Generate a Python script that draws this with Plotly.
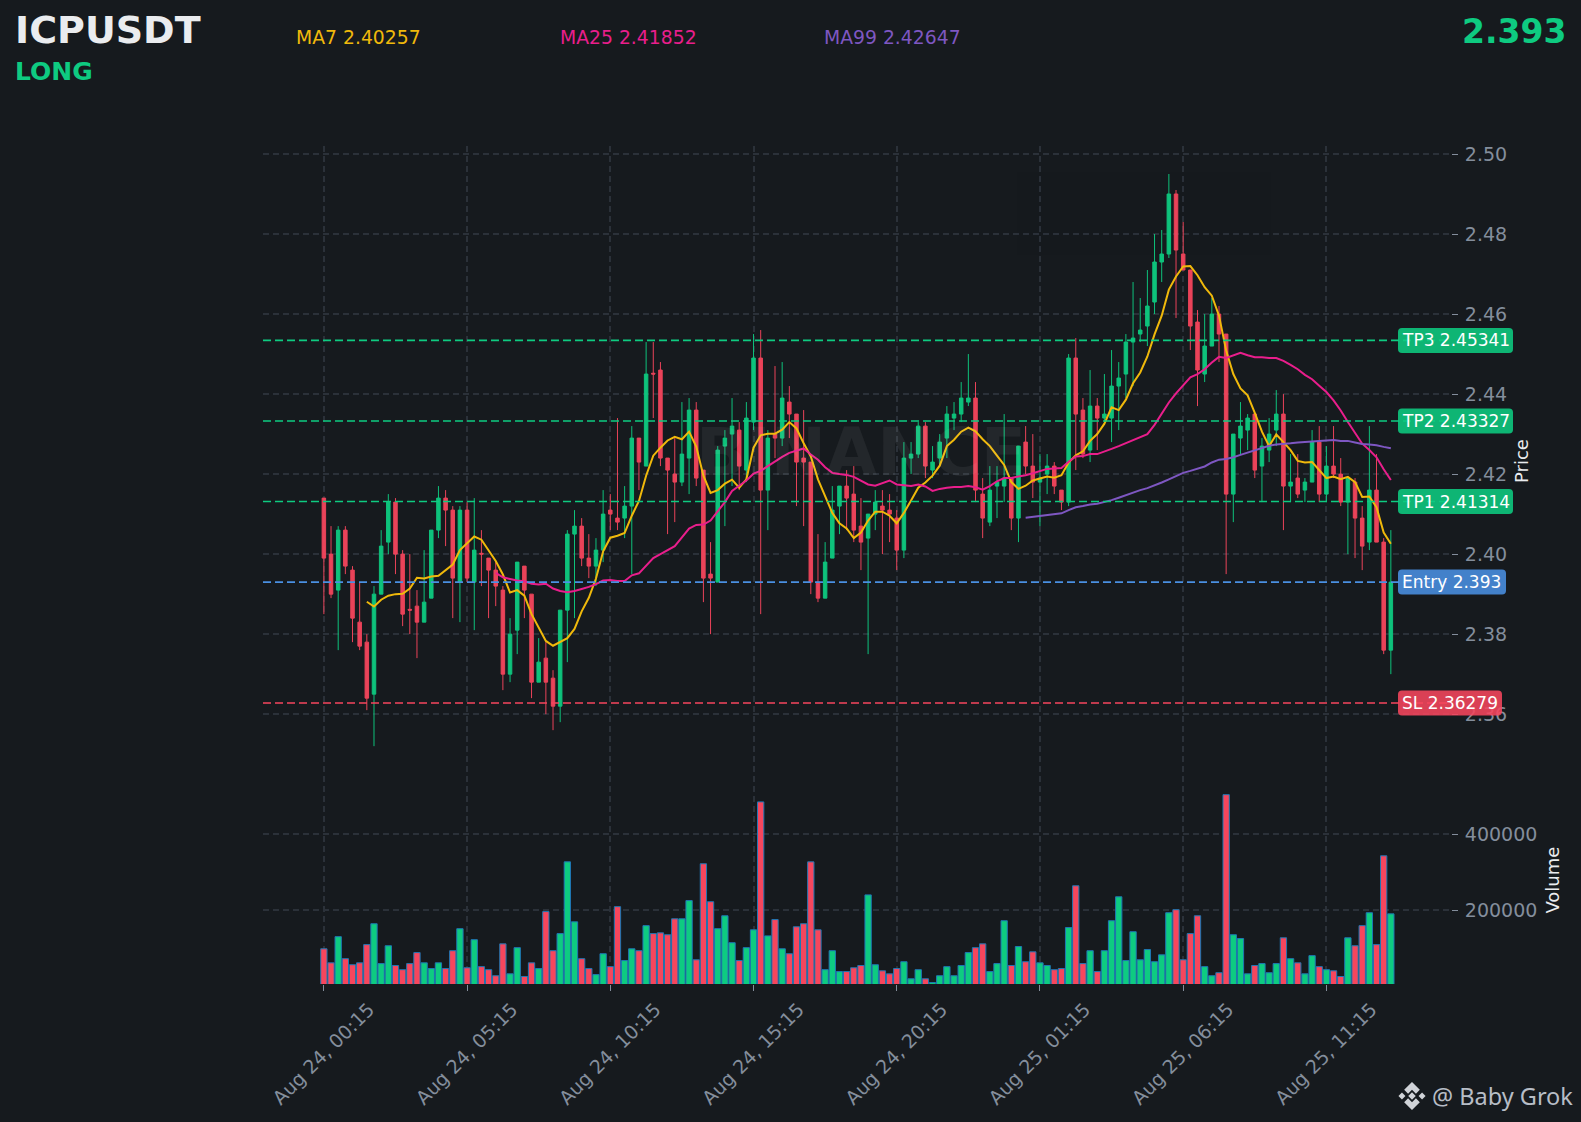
#!/usr/bin/env python3
"""ICPUSDT 15m candles with MA lines, trade levels and volume."""
import pandas as pd
import plotly.graph_objects as go
from plotly.subplots import make_subplots

symbol = "ICPUSDT"
side = "LONG"
last_price = "2.393"

opens = [2.414,2.400,2.391,2.406,2.396,2.383,2.378,2.365,2.390,2.403,
         2.413,2.400,2.3862,2.387,2.383,2.389,2.406,2.414,2.411,2.393,
         2.411,2.393,2.4002,2.399,2.396,2.391,2.370,2.381,2.397,2.390,
         2.368,2.374,2.369,2.362,2.386,2.405,2.407,2.399,2.397,2.401,
         2.411,2.409,2.409,2.412,2.429,2.422,2.4452,2.446,2.424,2.420,
         2.418,2.424,2.436,2.421,2.395,2.393,2.427,2.430,2.431,2.421,
         2.433,2.449,2.416,2.430,2.429,2.438,2.435,2.424,2.423,2.393,
         2.389,2.399,2.412,2.417,2.415,2.407,2.404,2.410,2.412,2.411,
         2.409,2.401,2.424,2.425,2.432,2.421,2.424,2.429,2.434,2.435,
         2.438,2.439,2.415,2.408,2.417,2.417,2.419,2.409,2.428,2.422,
         2.418,2.420,2.422,2.416,2.413,2.449,2.436,2.426,2.437,2.434,
         2.434,2.442,2.445,2.453,2.455,2.457,2.463,2.473,2.475,2.490,
         2.475,2.471,2.458,2.445,2.452,2.460,2.455,2.415,2.429,2.431,
         2.435,2.422,2.426,2.431,2.435,2.417,2.419,2.416,2.418,2.428,
         2.415,2.422,2.420,2.413,2.418,2.409,2.403,2.416,2.403,2.376]
highs = [2.414,2.407,2.407,2.407,2.397,2.393,2.380,2.392,2.406,2.415,
         2.414,2.401,2.400,2.391,2.401,2.406,2.417,2.416,2.412,2.412,
         2.413,2.414,2.406,2.399,2.398,2.392,2.384,2.398,2.397,2.390,
         2.379,2.378,2.371,2.386,2.406,2.411,2.409,2.405,2.404,2.416,
         2.415,2.434,2.417,2.432,2.429,2.453,2.453,2.448,2.424,2.429,
         2.438,2.439,2.438,2.421,2.403,2.427,2.431,2.439,2.433,2.438,
         2.455,2.456,2.431,2.447,2.448,2.442,2.435,2.436,2.423,2.405,
         2.403,2.417,2.417,2.421,2.422,2.414,2.410,2.416,2.416,2.415,
         2.411,2.428,2.428,2.433,2.433,2.427,2.430,2.437,2.438,2.443,
         2.450,2.443,2.419,2.422,2.422,2.435,2.419,2.427,2.432,2.430,
         2.425,2.425,2.423,2.416,2.450,2.454,2.439,2.446,2.439,2.445,
         2.451,2.448,2.455,2.468,2.464,2.471,2.480,2.481,2.495,2.491,
         2.483,2.471,2.461,2.460,2.464,2.462,2.455,2.430,2.438,2.435,
         2.435,2.429,2.434,2.441,2.440,2.425,2.425,2.419,2.431,2.432,
         2.427,2.432,2.424,2.419,2.419,2.412,2.432,2.425,2.404,2.406]
lows = [2.385,2.389,2.376,2.395,2.378,2.376,2.361,2.352,2.390,2.400,
        2.395,2.382,2.380,2.374,2.383,2.389,2.404,2.402,2.384,2.383,
        2.393,2.381,2.392,2.384,2.387,2.366,2.368,2.375,2.384,2.364,
        2.368,2.360,2.356,2.358,2.373,2.384,2.397,2.394,2.392,2.398,
        2.406,2.406,2.404,2.395,2.416,2.422,2.434,2.422,2.405,2.408,
        2.417,2.415,2.417,2.388,2.380,2.393,2.407,2.417,2.416,2.418,
        2.431,2.385,2.406,2.424,2.427,2.429,2.412,2.407,2.390,2.388,
        2.389,2.399,2.405,2.406,2.403,2.396,2.375,2.406,2.400,2.403,
        2.396,2.399,2.420,2.424,2.419,2.419,2.422,2.424,2.431,2.433,
        2.437,2.413,2.404,2.407,2.409,2.413,2.406,2.403,2.420,2.414,
        2.407,2.415,2.415,2.411,2.412,2.421,2.424,2.423,2.426,2.433,
        2.428,2.431,2.439,2.442,2.453,2.452,2.460,2.468,2.474,2.459,
        2.471,2.451,2.437,2.443,2.452,2.448,2.395,2.408,2.425,2.426,
        2.419,2.413,2.423,2.427,2.406,2.413,2.414,2.413,2.418,2.413,
        2.413,2.419,2.412,2.400,2.399,2.396,2.401,2.403,2.375,2.370]
closes = [2.399,2.390,2.406,2.397,2.384,2.377,2.364,2.390,2.402,2.413,
          2.400,2.385,2.386,2.383,2.388,2.406,2.414,2.411,2.394,2.411,
          2.394,2.401,2.400,2.396,2.392,2.370,2.380,2.398,2.391,2.368,
          2.373,2.368,2.362,2.386,2.405,2.407,2.399,2.397,2.401,2.410,
          2.410,2.408,2.412,2.429,2.423,2.445,2.445,2.424,2.421,2.418,
          2.425,2.436,2.419,2.394,2.394,2.426,2.429,2.432,2.422,2.434,
          2.449,2.416,2.429,2.429,2.439,2.435,2.423,2.423,2.393,2.389,
          2.398,2.411,2.417,2.414,2.406,2.403,2.410,2.413,2.411,2.410,
          2.401,2.424,2.425,2.432,2.422,2.423,2.428,2.435,2.435,2.439,
          2.439,2.416,2.409,2.416,2.418,2.419,2.409,2.427,2.422,2.418,
          2.419,2.422,2.417,2.413,2.449,2.435,2.425,2.437,2.434,2.435,
          2.442,2.444,2.453,2.454,2.456,2.462,2.473,2.475,2.490,2.476,
          2.471,2.457,2.446,2.452,2.460,2.455,2.415,2.430,2.432,2.434,
          2.421,2.427,2.430,2.435,2.417,2.418,2.415,2.418,2.428,2.415,
          2.422,2.420,2.413,2.419,2.409,2.402,2.416,2.403,2.376,2.393]
volumes = [98000,61000,130000,72000,56000,61000,109000,164000,59000,106000,
           54000,43000,59000,88000,61000,46000,61000,46000,93000,151000,
           48000,122000,51000,43000,27000,111000,32000,101000,25000,61000,
           46000,196000,93000,138000,327000,169000,72000,46000,30000,85000,
           51000,209000,67000,98000,93000,159000,138000,140000,135000,177000,
           177000,225000,69000,322000,222000,151000,185000,114000,67000,101000,
           148000,485000,132000,175000,98000,85000,156000,164000,327000,148000,
           43000,93000,38000,38000,48000,54000,240000,56000,40000,32000,
           46000,64000,19000,43000,19000,9000,27000,51000,27000,54000,
           88000,101000,111000,38000,59000,172000,54000,104000,64000,90000,
           61000,54000,43000,46000,154000,264000,59000,93000,38000,93000,
           172000,235000,67000,143000,69000,96000,64000,82000,193000,201000,
           69000,138000,185000,51000,27000,35000,504000,135000,125000,32000,
           54000,59000,35000,59000,127000,72000,61000,32000,80000,51000,
           43000,40000,25000,127000,106000,159000,193000,109000,343000,190000]
ma7 = [None]*6 + [
    2.3881,2.3869,2.3886,2.3896,2.3900,2.3901,2.3914,2.3941,2.3939,2.3944,
    2.3946,2.3961,2.3974,2.4010,2.4026,2.4044,2.4036,2.4010,2.3983,2.3949,
    2.3904,2.3910,2.3896,2.3850,2.3817,2.3783,2.3771,2.3780,2.3790,2.3813,
    2.3857,2.3891,2.3939,2.4007,2.4041,2.4046,2.4053,2.4096,2.4133,2.4196,
    2.4246,2.4266,2.4284,2.4293,2.4287,2.4306,2.4269,2.4196,2.4153,2.4160,
    2.4176,2.4186,2.4166,2.4187,2.4266,2.4297,2.4301,2.4301,2.4311,2.4330,
    2.4314,2.4277,2.4244,2.4187,2.4143,2.4103,2.4077,2.4064,2.4040,2.4054,
    2.4084,2.4106,2.4106,2.4096,2.4077,2.4103,2.4134,2.4166,2.4179,2.4196,
    2.4221,2.4270,2.4286,2.4306,2.4316,2.4307,2.4287,2.4270,2.4246,2.4223,
    2.4180,2.4163,2.4171,2.4184,2.4189,2.4194,2.4191,2.4197,2.4229,2.4247,
    2.4257,2.4283,2.4300,2.4326,2.4367,2.4360,2.4386,2.4427,2.4454,2.4494,
    2.4549,2.4596,2.4661,2.4694,2.4719,2.4720,2.4697,2.4667,2.4646,2.4596,
    2.4509,2.4450,2.4414,2.4397,2.4353,2.4306,2.4270,2.4299,2.4280,2.4260,
    2.4233,2.4229,2.4230,2.4209,2.4190,2.4194,2.4187,2.4193,2.4180,2.4143,
    2.4144,2.4117,2.4054,2.4026]
ma25 = [None]*24 + [
    2.3953,2.3942,2.3938,2.3934,2.3932,2.3926,2.3924,2.3926,2.3914,2.3908,
    2.3905,2.3908,2.3913,2.3918,2.3925,2.3934,2.3935,2.3933,2.3933,2.3947,
    2.3952,2.3972,2.3990,2.4000,2.4010,2.4020,2.4042,2.4064,2.4073,2.4074,
    2.4084,2.4106,2.4130,2.4158,2.4172,2.4184,2.4201,2.4208,2.4220,2.4232,
    2.4243,2.4253,2.4259,2.4264,2.4249,2.4236,2.4217,2.4203,2.4200,2.4198,
    2.4193,2.4184,2.4174,2.4171,2.4178,2.4184,2.4174,2.4172,2.4170,2.4174,
    2.4169,2.4158,2.4163,2.4166,2.4168,2.4168,2.4170,2.4167,2.4161,2.4170,
    2.4182,2.4190,2.4190,2.4194,2.4197,2.4202,2.4208,2.4213,2.4214,2.4215,
    2.4231,2.4244,2.4245,2.4250,2.4250,2.4256,2.4263,2.4270,2.4277,2.4284,
    2.4291,2.4300,2.4323,2.4350,2.4379,2.4402,2.4423,2.4442,2.4450,2.4462,
    2.4479,2.4493,2.4490,2.4496,2.4503,2.4497,2.4492,2.4492,2.4490,2.4490,
    2.4483,2.4473,2.4462,2.4448,2.4437,2.4421,2.4405,2.4384,2.4359,2.4330,
    2.4304,2.4276,2.4260,2.4242,2.4212,2.41852]
ma99 = [None]*98 + [
    2.4091,2.4093,2.4096,2.4097,2.4099,2.4102,2.4110,2.4117,2.4120,2.4124,
    2.4126,2.4130,2.4135,2.4141,2.4148,2.4155,2.4160,2.4165,2.4171,2.4179,
    2.4187,2.4196,2.4203,2.4208,2.4213,2.4219,2.4229,2.4236,2.4238,2.4242,
    2.4248,2.4254,2.4260,2.4266,2.4271,2.4274,2.4275,2.4277,2.4279,2.4280,
    2.4282,2.4283,2.4284,2.4285,2.4283,2.4283,2.4279,2.4275,2.4274,2.4272,
    2.4268,2.42647]
level_names = ["TP3", "TP2", "TP1", "Entry", "SL"]
level_values = [2.45341, 2.43327, 2.41314, 2.393, 2.36279]
level_text = ["TP3 2.45341", "TP2 2.43327", "TP1 2.41314", "Entry 2.393", "SL 2.36279"]
level_colors = ["#0ECB81", "#0ECB81", "#0ECB81", "#4A90E2", "#F6465D"]
level_widths = [115, 115, 115, 108, 104]
price_ticks = [2.36, 2.38, 2.40, 2.42, 2.44, 2.46, 2.48, 2.50]
volume_ticks = [200000, 400000]
ma_labels = ["MA7 2.40257", "MA25 2.41852", "MA99 2.42647"]

BG = "#161A1E"
GRID = "#2B3139"
TICK = "#848E9C"
GREEN = "#0ECB81"
RED = "#F6465D"
FONT = "DejaVu Sans"
W, H = 1581, 1122
L, R, T, B = 263, 1451, 146, 984  # plot area in pixels


def px(x):
    return (x - L) / (R - L)


def py(y):
    return (B - y) / (B - T)


times = pd.date_range("2025-08-24 00:15", periods=len(closes), freq="15min")
bar = pd.Timedelta(minutes=15)
x_range = [times[0] - 8.5 * bar, times[0] + 157.4 * bar]
tick_times = times[::20]
tick_text = [t.strftime("%b %d, %H:%M") for t in tick_times]
vol_colors = [GREEN if c > o else RED for o, c in zip(opens, closes)]

fig = make_subplots(rows=2, cols=1, shared_xaxes=True, vertical_spacing=0,
                    row_heights=[0.752, 0.248])

fig.add_trace(go.Candlestick(
    x=times, open=opens, high=highs, low=lows, close=closes,
    increasing=dict(line=dict(color=GREEN, width=1), fillcolor=GREEN),
    decreasing=dict(line=dict(color=RED, width=1), fillcolor=RED),
    opacity=0.95), row=1, col=1)
for vals, color in [(ma7, "#F0B90B"), (ma25, "#E91E8C"), (ma99, "#7E57C2")]:
    fig.add_trace(go.Scatter(x=times, y=vals, mode="lines",
                             line=dict(color=color, width=2)), row=1, col=1)
fig.add_trace(go.Bar(x=times, y=volumes, marker=dict(
    color=vol_colors, line=dict(color="#1F77B4", width=1))), row=2, col=1)

# trade levels, with their tags to the right of the candles
for value, text, color, w in zip(level_values, level_text, level_colors, level_widths):
    fig.add_shape(type="line", xref="paper", x0=0, x1=1, yref="y", y0=value, y1=value,
                  line=dict(color=color, width=1.6, dash="8px,4px"))
    h, r = 25, 4
    path = (f"M {r} {-h/2} H {w-r} Q {w} {-h/2} {w} {-h/2+r} V {h/2-r} Q {w} {h/2} {w-r} {h/2} "
            f"H {r} Q 0 {h/2} 0 {h/2-r} V {-h/2+r} Q 0 {-h/2} {r} {-h/2} Z")
    fig.add_shape(type="path", path=path, xref="paper", yref="y",
                  xsizemode="pixel", ysizemode="pixel", xanchor=px(1398), yanchor=value,
                  fillcolor=color, line=dict(width=0), opacity=0.88)
    fig.add_annotation(xref="paper", yref="y", x=px(1400), y=value, text=text, showarrow=False,
                       xanchor="left", yanchor="middle",
                       font=dict(family=FONT, size=17, color="#FFFFFF"))

# Binance mark next to the footer
logo = [
    [(0, -.27), (.27, 0), (0, .27), (-.27, 0)],
    [(-.72, -.25), (-.47, 0), (-.72, .25), (-.97, 0)],
    [(.72, -.25), (.97, 0), (.72, .25), (.47, 0)],
    [(0, -1), (.56, -.44), (.28, -.16), (0, -.44), (-.28, -.16), (-.56, -.44)],
    [(0, 1), (.56, .44), (.28, .16), (0, .44), (-.28, .16), (-.56, .44)],
]
for poly in logo:
    pts = [f"{px(1412 + 14 * a):.5f},{py(1096 + 14 * b):.5f}" for a, b in poly]
    fig.add_shape(type="path", xref="paper", yref="paper", fillcolor="#D0D3D8",
                  line=dict(width=0), path="M " + " L ".join(pts) + " Z")


def label(x, y, text, size, color, bold=False, anchor="left", family=FONT):
    fig.add_annotation(xref="paper", yref="paper", x=px(x), y=py(y), text=f"<b>{text}</b>" if bold else text,
                       showarrow=False, xanchor=anchor, yanchor="middle",
                       font=dict(family=family, size=size, color=color))


label(861, 452, "BINANCE", 66, "rgba(255,255,255,0.06)", bold=True, anchor="center")
label(13, 30, symbol, 38, "#EAECEF", bold=True)
label(13, 71, side, 25, GREEN, bold=True)
label(1568, 32, last_price, 33, GREEN, bold=True, anchor="right")
for x, text, color in zip([294, 558, 822], ma_labels, ["#F0B90B", "#E91E8C", "#7E57C2"]):
    label(x, 37, text, 18.8, color)
label(1575, 1096, "@ Baby Grok", 23.5, "#B7BDC6", anchor="right", family="Noto Sans")

fig.update_layout(
    width=W, height=H, margin=dict(l=L, r=W - R, t=T, b=H - B),
    paper_bgcolor=BG, plot_bgcolor=BG, showlegend=False,
    bargap=0.12, font=dict(family=FONT, color=TICK),
)
axis_style = dict(showgrid=True, gridcolor=GRID, griddash="6px,4px", gridwidth=1.5, zeroline=False,
                  showline=False, ticks="outside", ticklen=6, tickcolor=TICK,
                  tickfont=dict(family=FONT, size=19, color=TICK))
fig.update_xaxes(range=x_range, tickvals=tick_times, ticktext=tick_text, tickangle=-45,
                 ticklabelshift=45, rangeslider_visible=False, **axis_style)
fig.update_xaxes(ticks="", showticklabels=False, row=1, col=1)
fig.update_yaxes(side="right", ticklabelstandoff=3, **axis_style)
fig.update_yaxes(range=[2.3445, 2.502], tickvals=price_ticks, tickformat=".2f",
                 title=dict(text="Price", standoff=9, font=dict(family=FONT, size=18, color="#EAECEF")),
                 row=1, col=1)
fig.update_yaxes(range=[5263, 552700], tickvals=volume_ticks, tickformat="d",
                 title=dict(text="Volume", standoff=10, font=dict(family=FONT, size=18, color="#EAECEF")),
                 row=2, col=1)

fig.write_html("out.html", config={"displayModeBar": False},
               post_script="document.body.style.margin='0';")
